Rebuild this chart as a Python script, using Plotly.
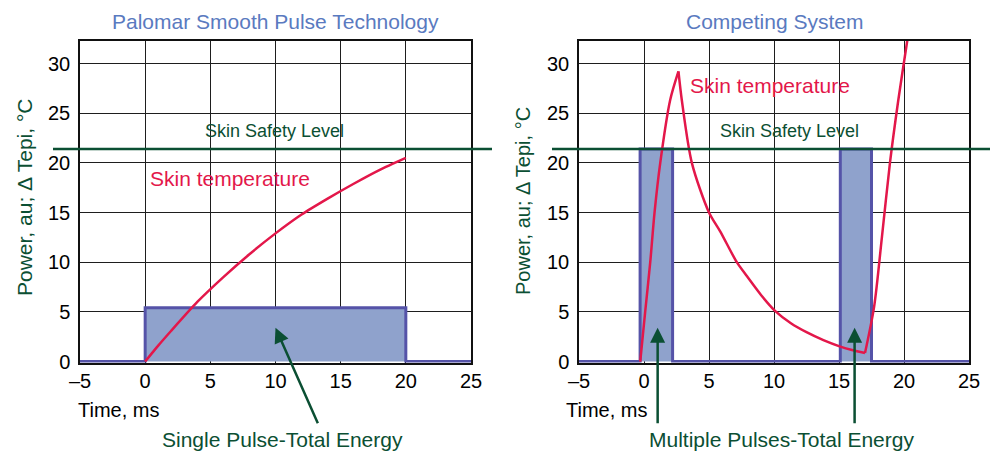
import plotly.graph_objects as go

# ---------------- data ----------------
# Left panel: Palomar Smooth Pulse Technology
time_left = [0, 1, 2, 4, 6, 8, 10, 12, 14, 16, 18, 20]
temp_left = [0, 1.6, 3.1, 6.0, 8.5, 10.8, 12.9, 14.8, 16.4, 17.9, 19.3, 20.5]
pulse_left_x = [-5, 0, 0, 20, 20, 25]
pulse_left_y = [0, 0, 5.4, 5.4, 0, 0]

# Right panel: Competing System (temperature in three segments)
time_rise1 = [-0.29, 0.09, 0.48, 0.81, 1.25, 2.01, 2.65]
temp_rise1 = [0, 5, 10, 15, 20, 26.3, 29.2]
time_decay = [2.65, 2.91, 3.68, 5.0, 5.86, 7.14, 7.91, 9.0, 10.08, 11.3, 12.5, 13.8, 15.1, 16.0, 17.0]
temp_decay = [29.2, 26.3, 20, 15, 13.1, 10, 8.6, 6.7, 5.1, 3.85, 2.95, 2.15, 1.5, 1.15, 0.85]
time_rise2 = [17.0, 17.7, 18.3, 18.92, 19.56, 20.25, 20.45]
temp_rise2 = [0.85, 5.5, 12.5, 20, 26.3, 32.3, 34.0]
pulse_right_x = [-5, -0.3, -0.3, 2.2, 2.2, 15.1, 15.1, 17.5, 17.5, 25]
pulse_right_y = [0, 0, 21.4, 21.4, 0, 0, 21.4, 21.4, 0, 0]

safety_level = 21.4
x_ticks = [-5, 0, 5, 10, 15, 20, 25]
x_tick_text = ["\u20135", "0", "5", "10", "15", "20", "25"]
y_ticks = [0, 5, 10, 15, 20, 25, 30]

# ---------------- style ----------------
FONT = "Liberation Sans, Arial, Helvetica, sans-serif"
RED = "#e3174a"
GREEN = "#0b4f33"
TITLE_BLUE = "#5a7ac0"
PULSE_FILL = "#8fa2cc"
PULSE_EDGE = "#5553a8"
W, H = 990, 452

fig = go.Figure()

# pulses
fig.add_trace(go.Scatter(x=pulse_left_x, y=pulse_left_y, mode="lines", fill="tozeroy",
                         fillcolor=PULSE_FILL, line=dict(color=PULSE_EDGE, width=3),
                         xaxis="x", yaxis="y", hoverinfo="skip", showlegend=False))
fig.add_trace(go.Scatter(x=pulse_right_x, y=pulse_right_y, mode="lines", fill="tozeroy",
                         fillcolor=PULSE_FILL, line=dict(color=PULSE_EDGE, width=3),
                         xaxis="x2", yaxis="y2", hoverinfo="skip", showlegend=False))
# temperature curves
fig.add_trace(go.Scatter(x=time_left, y=temp_left, mode="lines",
                         line=dict(color=RED, width=2.5, shape="spline", smoothing=0.6),
                         xaxis="x", yaxis="y", showlegend=False))
for tx, ty in ((time_rise1, temp_rise1), (time_decay, temp_decay), (time_rise2, temp_rise2)):
    fig.add_trace(go.Scatter(x=tx, y=ty, mode="lines",
                             line=dict(color=RED, width=2.5, shape="spline", smoothing=0.8),
                             xaxis="x2", yaxis="y2", showlegend=False))


def px_x(p):
    return p / W


def px_y(p):
    return 1 - p / H


y_dom = [px_y(362.5), px_y(40.7)]

axis_common = dict(showgrid=True, gridcolor="#1e1e1e", gridwidth=1.2, zeroline=False,
                   showline=True, linecolor="#111111", linewidth=1.5, mirror=True,
                   ticks="", automargin=False,
                   tickfont=dict(family=FONT, size=20, color="#000000"))

fig.update_layout(
    width=W, height=H, margin=dict(l=0, r=0, t=0, b=0, autoexpand=False),
    paper_bgcolor="white", plot_bgcolor="white", showlegend=False,
    font=dict(family=FONT),
    xaxis=dict(domain=[px_x(80), px_x(471)], range=[-5, 25], tickvals=x_ticks,
               ticktext=x_tick_text, anchor="y", **axis_common),
    yaxis=dict(domain=y_dom, range=[-0.1, 32.3], tickvals=y_ticks, anchor="x",
               ticklabelstandoff=4, **axis_common),
    xaxis2=dict(domain=[px_x(579), px_x(969)], range=[-5, 25], tickvals=x_ticks,
                ticktext=x_tick_text, anchor="y2", **axis_common),
    yaxis2=dict(domain=y_dom, range=[-0.1, 32.3], tickvals=y_ticks, anchor="x2",
                ticklabelstandoff=4, **axis_common),
)

# safety level lines (extend beyond plot area)
fig.add_shape(type="line", xref="paper", yref="y", x0=px_x(53), x1=px_x(492),
              y0=safety_level, y1=safety_level, line=dict(color=GREEN, width=2.6))
fig.add_shape(type="line", xref="paper", yref="y2", x0=px_x(552), x1=1.0,
              y0=safety_level, y1=safety_level, line=dict(color=GREEN, width=2.6))

ann = []


def label(text, x, y, size, color, xref="paper", yref="paper", xanchor="center", angle=0):
    ann.append(dict(text=text, xref=xref, yref=yref, x=x, y=y, xanchor=xanchor,
                    yanchor="middle", textangle=angle, showarrow=False,
                    font=dict(family=FONT, size=size, color=color)))


# titles
label("Palomar Smooth Pulse Technology", px_x(275), px_y(22), 21, TITLE_BLUE)
label("Competing System", px_x(774), px_y(22), 21, TITLE_BLUE)
# y titles
label("Power, au; \u0394 Tepi, \u00b0C", px_x(24), px_y(197), 21, GREEN, angle=-90)
label("Power, au; \u0394 Tepi, \u00b0C", px_x(523), px_y(201), 20, GREEN, angle=-90)
# x titles
label("Time, ms", px_x(76), px_y(410), 20, "#000000", xanchor="left")
label("Time, ms", px_x(564), px_y(410), 20, "#000000", xanchor="left")
# in-plot labels
label("Skin Safety Level", 9.9, 23.2, 18, GREEN, xref="x", yref="y")
label("Skin Safety Level", 11.2, 23.2, 18, GREEN, xref="x2", yref="y2")
label("Skin temperature", 0.2, 18.4, 21, RED, xref="x", yref="y", xanchor="left")
label("Skin temperature", 3.37, 27.8, 21, RED, xref="x2", yref="y2", xanchor="left")
# bottom labels
label("Single Pulse-Total Energy", px_x(282), px_y(439), 21, GREEN)
label("Multiple Pulses-Total Energy", px_x(781), px_y(439), 21, GREEN)

# arrows
arrow_style = dict(text="", showarrow=True, arrowhead=2, arrowsize=1.2, arrowwidth=2.5,
                   arrowcolor=GREEN, standoff=0)
ann.append(dict(xref="x", yref="y", x=10, y=3.4, ax=43, ay=97, **arrow_style))
ann.append(dict(xref="x2", yref="y2", x=1.05, y=3.4, ax=0, ay=97, **arrow_style))
ann.append(dict(xref="x2", yref="y2", x=16.2, y=3.4, ax=0, ay=97, **arrow_style))

fig.update_layout(annotations=ann)

fig.write_html("out.html")
